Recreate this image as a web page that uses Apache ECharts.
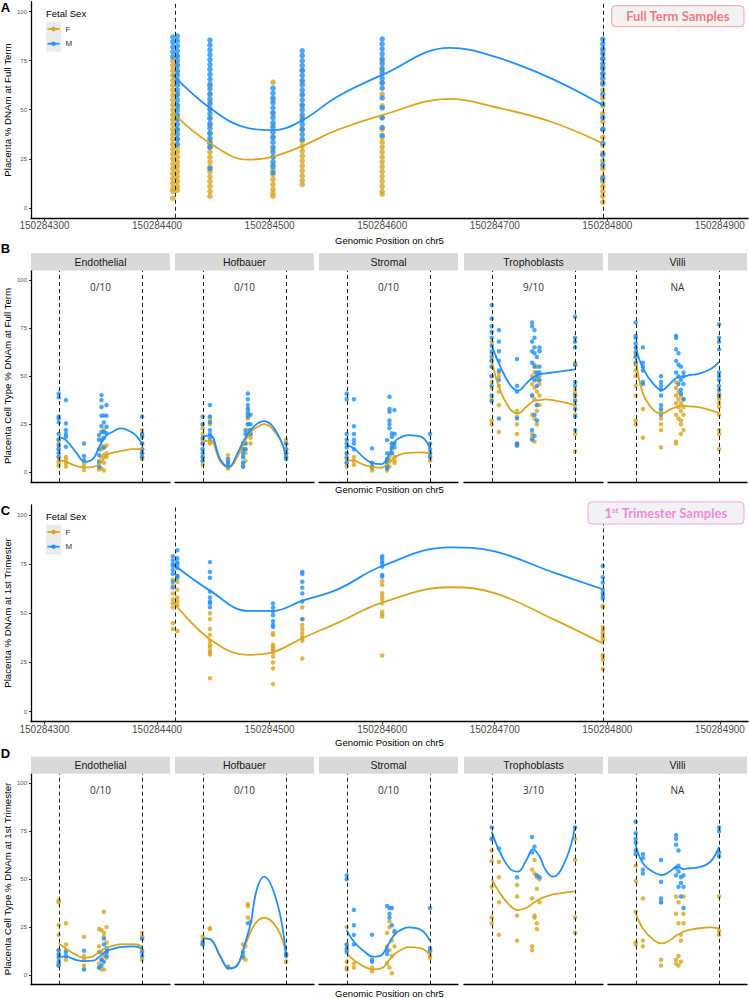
<!DOCTYPE html>
<html>
<head>
<meta charset="utf-8">
<title>Placenta DNAm on chr5</title>
<script src="https://cdn.jsdelivr.net/npm/echarts@6/dist/echarts.min.js"></script>
<style>
  html, body { margin: 0; padding: 0; background: #fff; }
  #chart { width: 749px; height: 998px; }
</style>
</head>
<body>
<div id="chart"></div>
<script>
// ---------- data (positions are offsets from chrBase) ----------
var chrBase = 150284000;
var xTicks = [150284300, 150284400, 150284500, 150284600, 150284700, 150284800, 150284900];
var yTicks = [0, 25, 50, 75, 100];
var vlinePos = [416, 796];

var cellTypes = ['Endothelial', 'Hofbauer', 'Stromal', 'Trophoblasts', 'Villi'];
var ftHits = ['0/10', '0/10', '0/10', '9/10', 'NA'];
var triHits = ['0/10', '0/10', '0/10', '3/10', 'NA'];

// bulk placenta (panels A and C)
var bulkPos = [414, 418, 447, 503, 529, 600, 796];
var bulkLineX = [414, 447, 481, 503, 529, 560, 600, 660, 700, 750, 796];

var ftBulkF = [
  [75, 72.5, 70, 67.5, 65, 62.5, 60, 57.5, 55, 52.5, 50, 47.5, 45, 42.5, 40, 37.5, 35, 32.5, 30, 27.5, 25, 22.5, 20, 17.5, 15, 12.5, 10, 8.5, 5],
  [77, 73, 69, 64, 58, 52, 46, 40, 35, 31, 28.5, 26, 23.5, 21, 18.5, 16, 13.5, 11, 9],
  [62, 58, 54, 50, 46, 42, 38, 34, 31, 28.5, 26, 23.5, 21, 18.5, 16, 13.5, 11, 8.5, 6],
  [64, 55, 48, 42, 36, 30, 26, 22, 19.5, 17, 14.5, 12, 9.5, 7.5, 6],
  [70, 64, 58, 52, 46, 40, 34, 31.5, 29, 26.5, 24, 21.5, 19, 16.5, 14, 12],
  [75, 70, 64, 58, 52, 46, 40, 36, 33.5, 31, 28.5, 26, 23.5, 21, 18.5, 16, 13.5, 11, 8.5, 7],
  [80, 76, 72, 68, 64, 60, 56, 52, 48, 44, 40, 36, 32, 28, 24, 20, 16, 13.5, 11, 8.5, 6, 3]
];
var ftBulkM = [
  [87, 84.5, 82, 79.5, 77],
  [87.5, 85, 82.5, 80, 77.5, 75, 72.5, 70, 67.5, 65, 62.5, 60, 57.5, 55, 52.5, 50, 47.5, 45, 42.5, 40, 37.5, 35, 32.5],
  [85.5, 83, 80.5, 78, 75.5, 73, 70.5, 68, 65.5, 63, 60.5, 58, 55.5, 53, 50.5, 48, 45.5, 43, 40.5, 38, 35.5, 33, 31, 20],
  [61, 58.5, 56, 53.5, 51, 48.5, 46, 43.5, 41, 38.5, 36, 33.5, 31, 28.5, 26, 23.5, 21, 18],
  [80, 77.5, 75, 72.5, 70, 67.5, 65, 62.5, 60, 57.5, 55, 52.5, 50, 47.5, 45, 42.5, 40, 37.5, 35],
  [86, 83.5, 81, 78.5, 76, 73.5, 71, 68.5, 66, 63.5, 61, 56, 51, 46, 41, 37],
  [86, 83.5, 81, 78.5, 76, 73.5, 71, 68.5, 66, 63, 58, 53, 46, 40, 33, 27, 22, 15]
];
var ftBulkLineF = [48.3, 33, 24.6, 26.2, 31.5, 39.7, 47.3, 55.5, 51.4, 43.9, 32.9];
var ftBulkLineM = [67.7, 50.9, 40.6, 39.6, 44.6, 56.6, 67.7, 81.5, 77, 66, 52.4];

var triBulkF = [
  [67, 64, 60, 57, 55, 53, 45, 42],
  [69, 66, 62, 58, 56, 54, 41],
  [50, 47, 42, 39, 36, 34, 33, 31, 30, 29, 17],
  [40, 39, 34, 33, 32, 31, 30, 28, 25, 22, 14],
  [53, 47, 44, 42, 40, 38, 37, 36, 27],
  [66.4, 64.4, 60.2, 58.5, 57, 55, 50.8, 49.5, 48.3, 28.5],
  [53.7, 53, 42.9, 41.5, 39.8, 38.1, 36.5, 28.8, 28, 26.3, 21.7]
];
var triBulkM = [
  [79, 77, 75, 74, 72, 70, 66, 63],
  [82, 78, 76, 75, 73, 69, 68],
  [76, 71, 68, 61, 58, 56, 55, 53],
  [55, 53, 51, 49, 46, 44, 43],
  [71, 70, 66, 63, 60, 56, 47],
  [79, 78, 76.5, 75.4, 73.7, 69.5, 68.6],
  [74, 68.3, 65.6, 61.9, 60, 58.5, 57.5]
];
var triBulkLineF = [56, 36.8, 28.9, 30.3, 37.3, 45, 55.4, 63.2, 60.2, 47.5, 34.7];
var triBulkLineM = [75, 61.5, 51.2, 51.2, 56.4, 62, 74, 83.5, 81.4, 71.2, 62.2];

// cell types (panels B and D)
var cellPos = [415, 448, 531, 600, 611, 622, 634, 797];
var cellLineX = [415, 448, 497, 535, 574, 604, 635, 662, 696, 757, 797];

var ftEndoF = [[17, 15, 12, 8, 6, 5, 3.5], [8, 6.4, 4.7, 3], [4.7, 3, 1.2], [6, 3, 1.5], [14, 12, 8, 2], [22, 13, 9, 5, 1], [14, 10, 8], [22, 20, 18, 15, 12, 10, 8, 7]];
var ftEndoM = [[41, 39, 29, 28, 26, 20, 17, 14, 12, 10, 8], [37.6, 25.5, 22, 20, 18.5, 13.3], [15, 8.5, 6.4], [19.4, 17, 12, 9, 5, 3], [40.2, 37.6, 34, 29.5, 24, 21, 17], [29.5, 26, 21, 18, 13], [35, 29.5, 23.7, 20.3], [29, 20, 19, 15, 12, 10, 8]];
var ftHofF = [[25, 23, 20, 17, 15, 12, 8, 6, 4], [29, 27, 25, 16, 15], [9, 6, 4, 2], [12, 8, 5, 3], [15, 12, 10, 6], [33, 30, 28, 25, 22, 20], [22, 20, 18, 15], [17, 15, 12, 10, 8]];
var ftHofM = [[29, 25, 18, 15, 12, 10, 8, 6], [35, 29, 26, 22, 20, 18], [7, 5, 3], [15, 12, 10, 8, 5, 3], [22, 20, 15, 12], [41, 38, 35, 33, 31, 29, 25], [30, 25, 22, 20], [15, 12, 10, 8, 7]];
var ftStromF = [[10, 7, 5, 3], [8, 6, 4], [3, 2, 1], [5, 3, 1], [8, 6, 3], [15, 12, 10], [8, 6, 5], [10, 8, 6]];
var ftStromM = [[41, 38, 20, 17, 15, 13, 10, 8, 5], [38, 24, 20, 17, 15, 12], [12.5, 5, 3], [16.8, 10, 7, 5, 3, 2], [39.3, 33, 31.5, 27, 25, 23], [20.3, 18.5, 15, 13, 10], [32.4, 20, 15, 13], [20, 15, 12, 10, 8]];
var ftTrophF = [[68, 62, 58, 55, 50, 47, 44, 38, 27, 25], [52, 50, 45, 42, 35, 21], [32, 29, 25, 20, 15, 14], [50, 46, 40, 30, 20, 18], [56, 52, 44, 38, 28, 16], [55, 48, 42, 35, 32, 25], [50, 46, 40, 35], [57, 56, 43, 41, 38, 35, 30, 20, 11]];
var ftTrophM = [[87, 80, 76, 73, 70, 66, 63, 60, 58, 55, 50, 45, 40, 37], [74, 68, 63, 58, 53, 48, 28], [59, 45, 42, 28, 15, 14], [78, 76, 68, 63, 57, 40, 22, 17], [74, 70, 65, 62, 55, 48, 30, 19], [60, 52, 50, 45, 35, 27], [65, 63, 55, 52, 48], [81, 70, 68, 65, 56, 47, 45, 40, 37, 33, 29, 22]];
var ftVilliF = [[63, 60, 56, 53, 50, 45, 40, 27, 25], [33, 18], [32, 28, 25, 22, 13], [47, 44, 40, 36, 30, 16, 15], [42, 38, 34, 28], [40, 36, 32, 27, 25, 20], [38, 34, 30, 22], [41, 39, 38, 36, 34, 30, 22, 20, 12]];
var ftVilliM = [[78, 71, 70, 67, 65, 62, 60, 57], [65, 57, 55, 53, 47, 46], [50, 47, 45, 43, 40, 35, 33, 30], [71, 70, 64, 58, 52], [62, 56, 50, 46], [55, 48, 43, 41], [52, 50, 46, 38], [77, 70, 68, 64, 52, 50, 48, 45, 43, 40]];

var ftEndoLineF = [6.4, 5.5, 3.3, 2.6, 2.9, 4.7, 9, 10.2, 11, 12.1, 12.1];
var ftEndoLineM = [18.5, 16.8, 10, 5.5, 7.3, 14.2, 19.4, 21.1, 22.9, 20.3, 14.7];
var ftHofLineF = [15.9, 16.8, 5.5, 2.6, 8.1, 15.1, 21.1, 23.4, 25.1, 19.4, 9.9];
var ftHofLineM = [18.5, 19.4, 6.4, 2.9, 9.9, 16.8, 22, 25.1, 26.7, 20.3, 8.1];
var ftStromLineF = [6.4, 6.1, 3.8, 2.9, 2.4, 4.7, 7.8, 9.4, 10.2, 10.4, 9.9];
var ftStromLineM = [14.2, 12.5, 7.3, 4.7, 4.3, 8.1, 15.9, 18.2, 19.4, 18.5, 12.5];
var ftTrophLineF = [58.4, 44.5, 33.3, 30.7, 34.1, 36.9, 37.6, 38, 37.6, 36.2, 35];
var ftTrophLineM = [66.2, 56.7, 45.9, 42.5, 46.3, 49.4, 51, 51.5, 52, 52.9, 53.6];
var ftVilliLineF = [59.3, 41.1, 32.4, 30.7, 32.8, 34.1, 34.7, 34.3, 34.1, 32.4, 30.7];
var ftVilliLineM = [65.3, 54.1, 45.9, 42.8, 46.3, 49.2, 49.7, 50.6, 51.1, 53.6, 57.5];

var triEndoF = [[39, 38, 26, 21, 13, 10, 6, 5], [27, 16, 13, 8], [20, 10, 8, 5, 3], [24, 15, 6, 4], [23.5, 12, 8, 3], [33, 22, 20, 10, 3], [25, 17, 12, 9], [22, 20, 19, 13, 8]];
var triEndoM = [[13, 11, 9, 7, 5], [12, 10], [12.7, 3], [12, 4], [8, 5], [19, 16, 7], [14, 12, 10], [19, 12, 10]];
var triHofF = [[20, 18, 16], [24.5, 24], [4.5], [16, 9], [15, 8], [37, 36, 30], [28], [11, 7]];
var triHofM = [[17, 16], [], [4], [12, 10], [], [27], [], [11, 10]];
var triStromF = [[25, 16, 13, 7, 4, 3], [6, 4], [4, 2], [22, 15, 6], [28, 25, 13, 4], [18, 10, 1], [22, 15], [12, 10, 9]];
var triStromM = [[52, 50, 16, 14, 12], [34, 26, 21, 16], [21, 8, 7], [36, 13, 11], [35, 32, 30], [35, 26], [23], [35, 14, 13]];
var triTrophF = [[71, 65, 59.5, 46, 30, 27], [59, 51, 38, 21], [47, 41, 31, 18], [55, 40, 15, 13], [60, 53, 31, 30], [51, 45, 27, 24], [50, 38], [71, 60, 30, 22]];
var triTrophM = [[77, 71], [66], [51], [72, 64], [67], [52], [51], [77]];
var triVilliF = [[57, 49, 33, 17, 16], [40, 18, 15], [38, 8, 5], [41, 32, 8, 6], [38, 27, 10, 5], [21, 18, 7], [41, 32, 27], [41, 23, 21]];
var triVilliM = [[80, 74, 71, 69, 65, 63], [63, 61, 55, 53], [60, 48.7, 40, 38], [73, 71, 68, 56, 52], [65, 57, 54, 46], [51, 48, 41], [52, 46, 35], [77, 75, 64, 62]];

var triEndoLineF = [16.5, 13.9, 10.4, 9, 9.9, 12.5, 14.3, 15.3, 16, 16.2, 15.1];
var triEndoLineM = [9.6, 9.6, 7.8, 7.3, 7.5, 9.9, 12.5, 13.6, 14.6, 15, 13.9];
var triHofLineF = [19.1, 18.8, 9.2, 3.5, 5.2, 13.9, 22.6, 27.8, 29.9, 24.3, 11.3];
var triHofLineM = [19.1, 18.8, 9.6, 3.5, 5.2, 14.8, 27, 44.3, 51.3, 37.4, 10.4];
var triStromLineF = [11.3, 7.8, 4.3, 3, 3.5, 7, 11, 13, 14.6, 13.9, 10.4];
var triStromLineM = [23.5, 17.4, 12.2, 9.6, 10.4, 15.7, 21.2, 23.5, 24.9, 23.5, 17.7];
var triTrophLineF = [50.1, 43.5, 36.5, 33.9, 35.1, 37.4, 39.7, 40.9, 42.1, 43.1, 43.5];
var triTrophLineM = [74.8, 65.2, 55.7, 53.9, 60, 65.7, 61.7, 54.8, 51.3, 60.9, 77.4];
var triVilliLineF = [32.2, 24.3, 18.3, 16.5, 18.3, 20.9, 22.6, 23.5, 24.3, 24.9, 24.3];
var triVilliLineM = [67.8, 58.3, 53.6, 52.2, 54.3, 56.5, 55.3, 55.7, 56, 59.1, 67];

// ---------- chart ----------
var GOLD = '#DAA520', BLUE = '#1E90FF';
var FONT = 'Liberation Sans';
var xMin = 150284288, xMax = 150284925;
var facetLeft = [31, 175, 319, 464, 608], facetW = 139;

var grids = [], xAxes = [], yAxes = [], series = [], graphics = [];

function toPts(pos, cols) {
  var out = [];
  cols.forEach(function (vals, i) {
    vals.forEach(function (v) { out.push([chrBase + pos[i], v]); });
  });
  return out;
}
function toLine(xs, ys) {
  return xs.map(function (x, i) { return [chrBase + x, ys[i]]; });
}

function addGrid(rect, showY, showX, size, pF, pM, lF, lM) {
  var g = grids.length;
  grids.push({ left: rect[0], top: rect[1], width: rect[2], height: rect[3] });
  xAxes.push({
    gridIndex: g, type: 'value', min: xMin, max: xMax,
    axisLine: { show: true, onZero: false, lineStyle: { color: '#000', width: 1.3 } },
    axisTick: { show: showX, length: 3, customValues: xTicks, lineStyle: { color: '#333' } },
    axisLabel: { show: showX, customValues: xTicks, margin: 3, fontSize: 10, color: '#4d4d4d', fontFamily: FONT,
      formatter: function (v) { return String(v); } },
    splitLine: { show: false }
  });
  yAxes.push({
    gridIndex: g, type: 'value', min: -5, max: 105,
    axisLine: { show: showY, onZero: false, lineStyle: { color: '#000', width: 1.3 } },
    axisTick: { show: showY, length: 2, customValues: yTicks, lineStyle: { color: '#333' } },
    axisLabel: { show: showY, customValues: yTicks, margin: 4, fontSize: 6, color: '#555', fontFamily: FONT },
    splitLine: { show: false }
  });
  series.push({ type: 'scatter', name: 'F', xAxisIndex: g, yAxisIndex: g, data: pF, symbolSize: size,
    itemStyle: { color: GOLD }, silent: true, z: 2 });
  series.push({ type: 'scatter', name: 'M', xAxisIndex: g, yAxisIndex: g, data: pM, symbolSize: size,
    itemStyle: { color: BLUE }, silent: true, z: 2 });
  series.push({ type: 'line', name: 'F', xAxisIndex: g, yAxisIndex: g, data: lF, smooth: 0.4, showSymbol: false,
    lineStyle: { color: GOLD, width: 1.8 }, silent: true, z: 3 });
  series.push({ type: 'line', name: 'M', xAxisIndex: g, yAxisIndex: g, data: lM, smooth: 0.4, showSymbol: false,
    lineStyle: { color: BLUE, width: 1.8 }, silent: true, z: 3,
    markLine: {
      silent: true, symbol: ['none', 'none'], label: { show: false },
      lineStyle: { color: '#222', type: [4, 3], width: 1 },
      data: vlinePos.map(function (p) { return { xAxis: chrBase + p }; })
    } });
}

function txt(x, y, s, size, extra) {
  var st = { text: s, x: x, y: y, fontSize: size, fontFamily: FONT, fill: '#1a1a1a', align: 'center', verticalAlign: 'middle' };
  for (var k in extra) st[k] = extra[k];
  return { type: 'text', style: st, z: 20 };
}

function addLegend(dy) {
  graphics.push(txt(46, 13 + dy, 'Fetal Sex', 9.5, { align: 'left', fill: '#000' }));
  graphics.push({ type: 'rect', shape: { x: 46, y: 21.7 + dy, width: 15, height: 30 }, style: { fill: '#ebebeb' }, z: 20 });
  [[GOLD, 29, 'F'], [BLUE, 43.7, 'M']].forEach(function (it) {
    graphics.push({ type: 'line', shape: { x1: 47.5, y1: it[1] + dy, x2: 59.5, y2: it[1] + dy }, style: { stroke: it[0], lineWidth: 1.8 }, z: 21 });
    graphics.push({ type: 'circle', shape: { cx: 53.5, cy: it[1] + dy, r: 2.2 }, style: { fill: it[0] }, z: 21 });
    graphics.push(txt(65.5, it[1] + dy, it[2], 8, { align: 'left', fill: '#333' }));
  });
}

function addStrips(top, h, hitY, hits) {
  cellTypes.forEach(function (c, i) {
    graphics.push({ type: 'rect', shape: { x: facetLeft[i], y: top, width: facetW, height: h }, style: { fill: '#d9d9d9' }, z: 10 });
    graphics.push(txt(facetLeft[i] + facetW / 2, top + h / 2, c, 10.5, {}));
    graphics.push(txt(facetLeft[i] + facetW / 2, hitY, hits[i], 10, { fontFamily: 'Open Sans', fill: '#333' }));
  });
}

// Panel A
addGrid([31, 1.7, 717, 216.1], true, true, 5.5,
  toPts(bulkPos, ftBulkF), toPts(bulkPos, ftBulkM), toLine(bulkLineX, ftBulkLineF), toLine(bulkLineX, ftBulkLineM));

// Panel B
var ftCellF = [ftEndoF, ftHofF, ftStromF, ftTrophF, ftVilliF];
var ftCellM = [ftEndoM, ftHofM, ftStromM, ftTrophM, ftVilliM];
var ftLineF = [ftEndoLineF, ftHofLineF, ftStromLineF, ftTrophLineF, ftVilliLineF];
var ftLineM = [ftEndoLineM, ftHofLineM, ftStromLineM, ftTrophLineM, ftVilliLineM];
facetLeft.forEach(function (L, i) {
  addGrid([L, 270.5, facetW, 211.5], i === 0, false, 4.5,
    toPts(cellPos, ftCellF[i]), toPts(cellPos, ftCellM[i]), toLine(cellLineX, ftLineF[i]), toLine(cellLineX, ftLineM[i]));
});

// Panel C
addGrid([31, 505, 717, 216.5], true, true, 4.5,
  toPts(bulkPos, triBulkF), toPts(bulkPos, triBulkM), toLine(bulkLineX, triBulkLineF), toLine(bulkLineX, triBulkLineM));

// Panel D
var triCellF = [triEndoF, triHofF, triStromF, triTrophF, triVilliF];
var triCellM = [triEndoM, triHofM, triStromM, triTrophM, triVilliM];
var triLineF = [triEndoLineF, triHofLineF, triStromLineF, triTrophLineF, triVilliLineF];
var triLineM = [triEndoLineM, triHofLineM, triStromLineM, triTrophLineM, triVilliLineM];
facetLeft.forEach(function (L, i) {
  addGrid([L, 773.7, facetW, 211], i === 0, false, 4.5,
    toPts(cellPos, triCellF[i]), toPts(cellPos, triCellM[i]), toLine(cellLineX, triLineF[i]), toLine(cellLineX, triLineM[i]));
});

// strips and annotations
addStrips(253.3, 17.2, 287.3, ftHits);
addStrips(756.7, 17, 790, triHits);

// panel letters
[['A', 7.5], ['B', 248.3], ['C', 510], ['D', 753.3]].forEach(function (p) {
  graphics.push(txt(5.5, p[1], p[0], 13, { fontWeight: 'bold', fill: '#000' }));
});

// axis titles
[240, 489.5, 742, 993].forEach(function (y) {
  graphics.push(txt(389.5, y, 'Genomic Position on chr5', 9.5, { fill: '#000' }));
});
[[110, 'Placenta % DNAm at Full Term'], [376, 'Placenta Cell Type % DNAm at Full Term'],
 [613, 'Placenta % DNAm at 1st Trimester'], [879, 'Placenta Cell Type % DNAm at 1st Trimester']].forEach(function (t) {
  var e = txt(0, 0, t[1], 9.7, { fill: '#000' });
  e.x = 7.5; e.y = t[0]; e.rotation = Math.PI / 2;
  graphics.push(e);
});

// legends
addLegend(0);
addLegend(503);

// sample-group labels
graphics.push({ type: 'rect', shape: { x: 611.7, y: 5.7, width: 132.3, height: 21, r: 4 },
  style: { fill: '#f2f2f2', stroke: '#f4a0a0', lineWidth: 1 }, z: 20 });
graphics.push(txt(677.8, 16.3, 'Full Term Samples', 13, { fontFamily: 'Lato', fontWeight: 'bold', fill: '#f47a7a' }));
graphics.push({ type: 'rect', shape: { x: 588, y: 502, width: 156, height: 22, r: 4 },
  style: { fill: '#f2f2f2', stroke: '#f3a6e6', lineWidth: 1 }, z: 20 });
graphics.push({ type: 'text', z: 21, style: {
  text: '1{sup|st} Trimester Samples', x: 666, y: 513.3, align: 'center', verticalAlign: 'middle',
  fontSize: 13, fontFamily: 'Lato', fontWeight: 'bold', fill: '#f08ae0',
  rich: { sup: { fontSize: 8, fontFamily: 'Lato', fontWeight: 'bold', fill: '#f08ae0', verticalAlign: 'top', padding: [0, 0, 6, 0] } }
} });

var chart = echarts.init(document.getElementById('chart'), null, { renderer: 'svg' });
chart.setOption({
  animation: false,
  backgroundColor: '#fff',
  textStyle: { fontFamily: FONT },
  grid: grids,
  xAxis: xAxes,
  yAxis: yAxes,
  series: series,
  graphic: graphics
});
</script>
</body>
</html>
